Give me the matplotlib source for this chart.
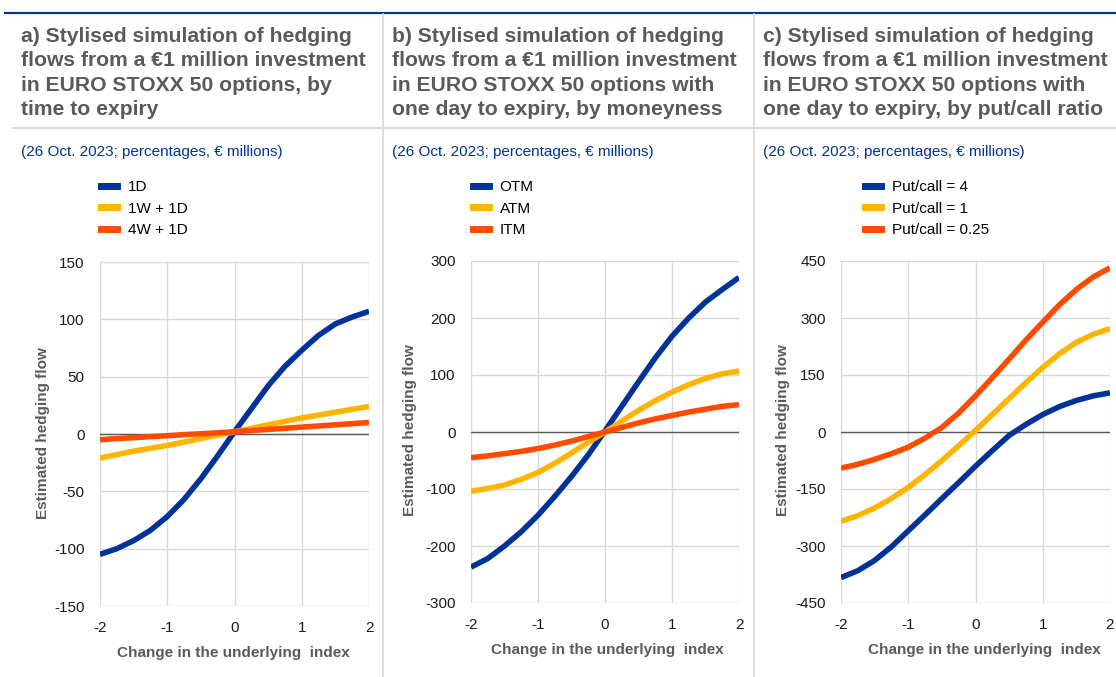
import matplotlib
matplotlib.use("Agg")
import matplotlib.pyplot as plt
from matplotlib.lines import Line2D

plt.rcParams['font.family'] = ['Liberation Sans', 'DejaVu Sans']
plt.rcParams['axes.unicode_minus'] = False

# change in the underlying index
x = [-2, -1.75, -1.5, -1.25, -1, -0.75, -0.5, -0.25, 0, 0.25, 0.5, 0.75, 1, 1.25, 1.5, 1.75, 2]

# a) by time to expiry
a_1d = [-105, -100, -93, -84, -72, -57, -39, -19, 2, 22, 42, 59, 73, 86, 96, 102, 107]
a_1w = [-21, -18, -15, -12.5, -10, -7, -4, -1, 2, 5, 8, 11, 14, 16.5, 19, 21.5, 24]
a_4w = [-5, -4, -3.2, -2.3, -1.5, -0.5, 0.2, 1, 2, 3, 4, 5, 6, 7, 8, 9, 10]

# b) one day to expiry, by moneyness
b_otm = [-237, -222, -200, -175, -146, -113, -78, -40, 2, 45, 88, 130, 168, 200, 228, 250, 271]
b_atm = [-104, -99, -93, -83, -71, -55, -37, -18, 0, 19, 38, 55, 70, 83, 94, 102, 107]
b_itm = [-45, -42, -38, -34, -29, -23, -16, -8, 0, 8, 16, 23, 29, 35, 40, 45, 48]

# c) one day to expiry, by put/call ratio
c_pc4 = [-383, -365, -338, -302, -260, -218, -175, -133, -90, -49, -9, 20, 46, 67, 83, 95, 103]
c_pc1 = [-235, -220, -200, -175, -146, -112, -75, -36, 4, 46, 88, 130, 170, 206, 236, 257, 272]
c_pc025 = [-95, -85, -72, -57, -40, -16, 12, 50, 95, 143, 192, 242, 289, 335, 375, 408, 432]

titles = [
    "a) Stylised simulation of hedging\nflows from a €1 million investment\nin EURO STOXX 50 options, by\ntime to expiry",
    "b) Stylised simulation of hedging\nflows from a €1 million investment\nin EURO STOXX 50 options with\none day to expiry, by moneyness",
    "c) Stylised simulation of hedging\nflows from a €1 million investment\nin EURO STOXX 50 options with\none day to expiry, by put/call ratio",
]
subtitle = "(26 Oct. 2023; percentages, € millions)"
labels = [["1D", "1W + 1D", "4W + 1D"],
          ["OTM", "ATM", "ITM"],
          ["Put/call = 4", "Put/call = 1", "Put/call = 0.25"]]
series = [[a_1d, a_1w, a_4w], [b_otm, b_atm, b_itm], [c_pc4, c_pc1, c_pc025]]
yticks = [[-150, -100, -50, 0, 50, 100, 150],
          [-300, -200, -100, 0, 100, 200, 300],
          [-450, -300, -150, 0, 150, 300, 450]]
xticks = [-2, -1, 0, 1, 2]

colors = ["#003299", "#ffb400", "#ff4b00"]
GRAY = "#5a5a5a"
W, H = 1116, 677

fig = plt.figure(figsize=(W / 100, H / 100), dpi=100)

def fx(px):
    return px / W

def fy(py):
    return 1 - py / H

# frame lines
fig.add_artist(Line2D([fx(5), 1], [fy(13), fy(13)], color="#003299", lw=1.6))
fig.add_artist(Line2D([fx(13), 1], [fy(128), fy(128)], color="#d9d9d9", lw=1.4))
for sx in [383, 754]:
    fig.add_artist(Line2D([fx(sx), fx(sx)], [fy(14), 0], color="#d9d9d9", lw=1.2))

text_x = [21, 392, 763]
axes_box = [(100, 369, 262, 606), (471, 739, 261, 603), (841, 1110, 261, 603)]
leg_x = [101, 473, 865]
ylab_x = [43, 410, 783]
ylab_y = [433, 430, 430]
xlab_x = [233, 607, 984]
xlab_y = [653, 650, 650]

for i in range(3):
    fig.text(fx(text_x[i]), fy(27), titles[i], fontsize=15.2, fontweight="bold",
             color=GRAY, va="top", ha="left", linespacing=1.36)
    fig.text(fx(text_x[i]), fy(152), subtitle, fontsize=11, color="#003299",
             va="center", ha="left")

    l, r, t, b = axes_box[i]
    ax = fig.add_axes([fx(l), fy(b), fx(r - l), (b - t) / H])
    for j in range(3):
        ax.plot(x, series[i][j], color=colors[j], lw=4, label=labels[i][j],
                solid_capstyle="butt", solid_joinstyle="round", zorder=3)
    ax.axhline(0, color="#595959", lw=1, zorder=2)
    ax.set_xlim(-2, 2)
    ax.set_ylim(yticks[i][0], yticks[i][-1])
    ax.set_xticks(xticks)
    ax.set_yticks(yticks[i])
    ax.grid(True, color="#d9d9d9", lw=1)
    ax.set_axisbelow(True)
    for s in ax.spines.values():
        s.set_visible(False)
    ax.tick_params(length=0, labelsize=11, colors="#1a1a1a", pad=11)

    handles = [Line2D([], [], color=c, lw=5) for c in colors]
    ax.legend(handles, labels[i], loc="upper left",
              bbox_to_anchor=(fx(leg_x[i]), fy(180)), bbox_transform=fig.transFigure,
              frameon=False, fontsize=11, handlelength=1.05, handletextpad=0.7,
              labelspacing=0.5, borderpad=0, borderaxespad=0)

    fig.text(fx(ylab_x[i]), fy(ylab_y[i]), "Estimated hedging flow", rotation=90,
             fontsize=11, fontweight="bold", color=GRAY, ha="center", va="center")
    fig.text(fx(xlab_x[i]), fy(xlab_y[i]), "Change in the underlying  index",
             fontsize=11, fontweight="bold", color=GRAY, ha="center", va="center")

fig.savefig("out.png", dpi=100)
